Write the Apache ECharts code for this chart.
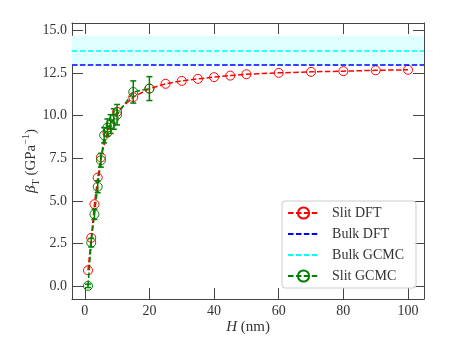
<!DOCTYPE html>
<html>
<head>
<meta charset="utf-8">
<script src="https://cdn.jsdelivr.net/npm/echarts@6/dist/echarts.min.js"></script>
<style>
  html, body { margin: 0; padding: 0; background: #fff; }
  #chart { width: 449px; height: 359px; }
</style>
</head>
<body>
<div id="chart"></div>
<script>
// slit pore DFT curve
const hDft = [1, 2, 3, 4, 5, 7, 8, 10, 15, 20, 25, 30, 35, 40, 45, 50, 60, 70, 80, 90, 100];
const betaDft = [0.94, 2.84, 4.81, 6.37, 7.55, 9.0, 9.47, 10.22, 11.08, 11.58, 11.86, 12.03, 12.15, 12.25, 12.34, 12.42, 12.5, 12.56, 12.6, 12.65, 12.68];
// slit pore GCMC with error bars
const hGcmc = [1, 2, 3, 4, 5, 6, 7, 8, 9, 10, 15, 20];
const betaGcmc = [0.03, 2.56, 4.22, 5.83, 7.38, 8.85, 9.3, 9.5, 9.8, 10.05, 11.38, 11.58];
const errGcmc = [0.1, 0.25, 0.3, 0.35, 0.4, 0.45, 0.5, 0.55, 0.6, 0.6, 0.65, 0.7];
// bulk values
const bulkDft = 13.0;
const bulkGcmc = 13.79;
const bulkGcmcErr = 0.89;
// axes
const xTicks = [0, 20, 40, 60, 80, 100];
const yTicks = [0, 2.5, 5, 7.5, 10, 12.5, 15];
const xMin = -3.95, xMax = 104.95;
const yMin = -0.74, yMax = 15.42;

const font = 'Liberation Serif';
const lineCol = '#444';
const txtCol = '#333';
const dash = [5.5, 2.4];

const chart = echarts.init(document.getElementById('chart'));

function axisBase(pos, min, max, ticks, labels) {
  return {
    type: 'value', position: pos, min: min, max: max,
    axisLine: { show: true, onZero: false, lineStyle: { color: lineCol, width: 1 } },
    axisTick: { show: true, inside: true, length: 11, customValues: ticks, lineStyle: { color: lineCol, width: 1 } },
    axisLabel: labels ? {
      show: true, customValues: ticks, margin: 5,
      fontFamily: font, fontSize: 14, color: txtCol,
      formatter: v => labels(v)
    } : { show: false },
    splitLine: { show: false }
  };
}

const x0 = axisBase('bottom', xMin, xMax, xTicks, v => String(v));
x0.name = '{i|H} (nm)';
x0.nameLocation = 'middle';
x0.nameGap = 21;
x0.nameMoveOverlap = false;
x0.nameTextStyle = { fontFamily: font, fontSize: 15, color: txtCol, rich: { i: { fontFamily: font, fontSize: 15, fontStyle: 'italic', color: txtCol } } };
const x1 = axisBase('top', xMin, xMax, xTicks, null);

const y0 = axisBase('left', yMin, yMax, yTicks, v => v.toFixed(1));
y0.name = '{b|β}{s|T} (GPa{p|−1})';
y0.nameLocation = 'middle';
y0.nameGap = 31;
y0.nameMoveOverlap = false;
y0.nameTextStyle = {
  fontFamily: font, fontSize: 15, color: txtCol, lineHeight: 20,
  rich: {
    b: { fontFamily: font, fontSize: 15, fontStyle: 'italic', color: txtCol, lineHeight: 20 },
    s: { fontFamily: font, fontSize: 10, color: txtCol, lineHeight: 11, verticalAlign: 'bottom' },
    p: { fontFamily: font, fontSize: 10, color: txtCol, lineHeight: 11, verticalAlign: 'top' }
  }
};
const y1 = axisBase('right', yMin, yMax, yTicks, null);

const noMark = { color: 'rgba(0,0,0,0)', borderColor: 'rgba(0,0,0,0)', borderWidth: 0, opacity: 0 };

const option = {
  animation: false,
  grid: { left: 72, right: 25, top: 23, bottom: 60 },
  xAxis: [x0, x1],
  yAxis: [y0, y1],
  legend: {
    orient: 'vertical', right: 33, bottom: 71,
    data: [
      'Slit DFT',
      { name: 'Bulk DFT', itemStyle: noMark },
      { name: 'Bulk GCMC', itemStyle: noMark },
      'Slit GCMC'
    ],
    itemWidth: 31, itemHeight: 14, itemGap: 7,
    padding: [5, 12, 5, 5],
    backgroundColor: 'rgba(255,255,255,0.85)',
    borderColor: '#ccc', borderWidth: 1, borderRadius: 3,
    textStyle: { fontFamily: font, fontSize: 14, color: txtCol, padding: [0, 0, 0, 8], lineHeight: 14 }
  },
  series: [
    {
      name: 'Bulk GCMC', type: 'line', data: [], symbol: 'none', z: 1,
      lineStyle: { color: '#00ffff', type: dash, width: 1.5 },
      itemStyle: { color: '#00ffff' },
      markArea: {
        silent: true,
        itemStyle: { color: '#e0ffff' },
        data: [[{ yAxis: bulkGcmc - bulkGcmcErr }, { yAxis: bulkGcmc + bulkGcmcErr }]]
      },
      markLine: {
        silent: true, symbol: 'none', label: { show: false },
        lineStyle: { color: '#00ffff', type: dash, width: 1.5 },
        data: [{ yAxis: bulkGcmc }]
      }
    },
    {
      name: 'Bulk DFT', type: 'line', data: [], symbol: 'none', z: 2,
      lineStyle: { color: '#0000ff', type: dash, width: 1.5 },
      itemStyle: { color: '#0000ff' },
      markLine: {
        silent: true, symbol: 'none', label: { show: false },
        lineStyle: { color: '#0000ff', type: dash, width: 1.5 },
        data: [{ yAxis: bulkDft }]
      }
    },
    {
      name: 'Slit DFT', type: 'line', z: 3,
      data: hDft.map((h, i) => [h, betaDft[i]]),
      symbol: 'circle', symbolSize: 9,
      lineStyle: { color: '#ff0000', type: dash, width: 1.5 },
      itemStyle: { color: 'rgba(0,0,0,0)', borderColor: '#ff0000', borderWidth: 1 }
    },
    {
      name: 'gcmc-err', type: 'custom', z: 4,
      data: hGcmc.map((h, i) => [h, betaGcmc[i], errGcmc[i]]),
      encode: { x: 0, y: 1 },
      renderItem: function (params, api) {
        const x = api.value(0), y = api.value(1), e = api.value(2);
        const lo = api.coord([x, y - e]);
        const hi = api.coord([x, y + e]);
        const st = { stroke: '#008000', lineWidth: 1.5 };
        return {
          type: 'group',
          children: [
            { type: 'line', shape: { x1: lo[0], y1: lo[1], x2: hi[0], y2: hi[1] }, style: st },
            { type: 'line', shape: { x1: lo[0] - 3, y1: lo[1], x2: lo[0] + 3, y2: lo[1] }, style: st },
            { type: 'line', shape: { x1: hi[0] - 3, y1: hi[1], x2: hi[0] + 3, y2: hi[1] }, style: st }
          ]
        };
      }
    },
    {
      name: 'Slit GCMC', type: 'line', z: 5,
      data: hGcmc.map((h, i) => [h, betaGcmc[i]]),
      symbol: 'circle', symbolSize: 9,
      lineStyle: { color: '#008000', type: dash, width: 1.5 },
      itemStyle: { color: 'rgba(0,0,0,0)', borderColor: '#008000', borderWidth: 1 }
    }
  ]
};
chart.setOption(option);
</script>
</body>
</html>
